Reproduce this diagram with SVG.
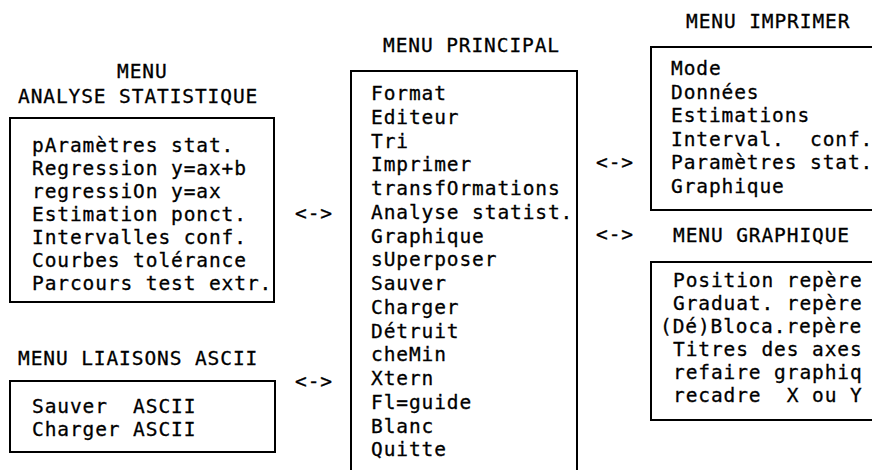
<svg xmlns="http://www.w3.org/2000/svg" width="872" height="470" viewBox="0 0 872 470">
<style>
text { font-family: "DejaVu Sans Mono", "Liberation Mono", monospace; font-size: 19.5px; letter-spacing: 0.9px; fill: #000; stroke: #000; stroke-width: 0.3px; white-space: pre; }
.box { fill: none; stroke: #000; stroke-width: 2; }
</style>
<rect width="872" height="470" fill="#fff"/>
<g id="menu-analyse">
  <text x="117" y="78">MENU</text>
  <text x="18" y="103">ANALYSE STATISTIQUE</text>
  <rect class="box" x="10" y="118" width="264" height="184"/>
  <text x="32" y="152">pAramètres stat.</text>
  <text x="32" y="175">Regression y=ax+b</text>
  <text x="32" y="198">regressiOn y=ax</text>
  <text x="32" y="221">Estimation ponct.</text>
  <text x="32" y="244">Intervalles conf.</text>
  <text x="32" y="267">Courbes tolérance</text>
  <text x="32" y="290">Parcours test extr.</text>
</g>
<g id="menu-liaisons">
  <text x="18" y="365">MENU LIAISONS ASCII</text>
  <rect class="box" x="10" y="381" width="265" height="71"/>
  <text x="32" y="413" xml:space="preserve">Sauver  ASCII</text>
  <text x="32" y="436">Charger ASCII</text>
</g>
<g id="menu-principal">
  <text x="383" y="52">MENU PRINCIPAL</text>
  <rect class="box" x="351" y="71" width="226" height="420"/>
  <text x="371" y="100">Format</text>
  <text x="371" y="123.75">Editeur</text>
  <text x="371" y="147.5">Tri</text>
  <text x="371" y="171.25">Imprimer</text>
  <text x="371" y="195">transfOrmations</text>
  <text x="371" y="218.75">Analyse statist.</text>
  <text x="371" y="242.5">Graphique</text>
  <text x="371" y="266.25">sUperposer</text>
  <text x="371" y="290">Sauver</text>
  <text x="371" y="313.75">Charger</text>
  <text x="371" y="337.5">Détruit</text>
  <text x="371" y="361.25">cheMin</text>
  <text x="371" y="385">Xtern</text>
  <text x="371" y="408.75">Fl=guide</text>
  <text x="371" y="432.5">Blanc</text>
  <text x="371" y="456.25">Quitte</text>
</g>
<g id="menu-imprimer">
  <text x="686" y="28">MENU IMPRIMER</text>
  <rect class="box" x="651" y="47" width="240" height="163"/>
  <text x="671" y="75">Mode</text>
  <text x="671" y="98.5">Données</text>
  <text x="671" y="122">Estimations</text>
  <text x="671" y="145.5" xml:space="preserve">Interval.  conf.</text>
  <text x="671" y="169">Paramètres stat.</text>
  <text x="671" y="192.5">Graphique</text>
</g>
<g id="menu-graphique">
  <text x="673" y="242">MENU GRAPHIQUE</text>
  <rect class="box" x="651" y="262" width="240" height="158"/>
  <text x="673" y="287">Position repère</text>
  <text x="673" y="310">Graduat. repère</text>
  <text x="660" y="333">(Dé)Bloca.repère</text>
  <text x="673" y="356">Titres des axes</text>
  <text x="673" y="379">refaire graphiq</text>
  <text x="673" y="402" xml:space="preserve">recadre  X ou Y</text>
</g>
<g id="connectors">
  <text x="295" y="220">&lt;-&gt;</text>
  <text x="295" y="388">&lt;-&gt;</text>
  <text x="596" y="169">&lt;-&gt;</text>
  <text x="596" y="241">&lt;-&gt;</text>
</g>
</svg>
